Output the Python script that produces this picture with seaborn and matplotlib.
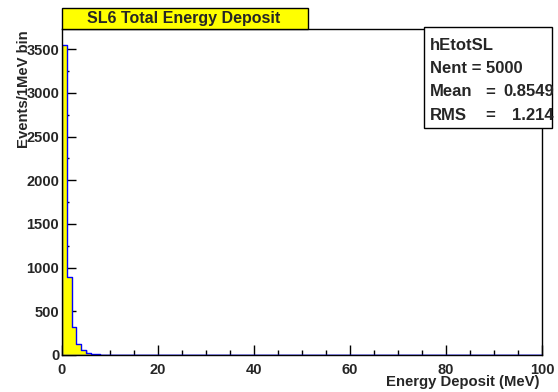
import numpy as np
import pandas as pd
import seaborn as sns
import matplotlib
matplotlib.use("Agg")
import matplotlib.pyplot as plt
from matplotlib.ticker import MultipleLocator
from matplotlib.patches import Rectangle

# Histogram contents: 1 MeV bins starting at 0 MeV
bin_low_edges = [0, 1, 2, 3, 4, 5, 6, 7, 8, 9, 10]
bin_counts = [3555, 890, 320, 125, 55, 25, 12, 8, 5, 3, 2]
x_range = (0, 100)
bin_width = 1.0

hist_name = "hEtotSL"
n_entries = 5000
mean_value = 0.8549
rms_value = 1.214
title_text = "SL6 Total Energy Deposit"
x_label = "Energy Deposit (MeV)"
y_label = "Events/1MeV bin"

sns.set_theme(style="white")
plt.rcParams["font.family"] = ["Liberation Sans", "DejaVu Sans"]
plt.rcParams["font.weight"] = "bold"

df = pd.DataFrame({
    "energy": np.array(bin_low_edges) + bin_width / 2,
    "count": bin_counts,
})

fig = plt.figure(figsize=(5.58, 3.92), dpi=100)
ax = fig.add_axes([62 / 558, 37 / 392, 480 / 558, 326 / 392])

sns.histplot(data=df, x="energy", weights="count", binwidth=bin_width,
             binrange=x_range, element="step", fill=True,
             facecolor="#ffff00", alpha=1.0,
             edgecolor="#0000ff", linewidth=1.0, ax=ax)

ax.set_xlim(*x_range)
ax.set_ylim(0, 1.05 * max(bin_counts))

ax.xaxis.set_major_locator(MultipleLocator(20))
ax.xaxis.set_minor_locator(MultipleLocator(5))
ax.yaxis.set_major_locator(MultipleLocator(500))
ax.yaxis.set_minor_locator(MultipleLocator(250))

ax.tick_params(axis="x", which="major", direction="in", length=7, width=1,
               color="black", bottom=True, top=False, pad=5.5, labelsize=10.5)
ax.tick_params(axis="x", which="minor", direction="in", length=3.5, width=1,
               color="black", bottom=True, top=False)
ax.tick_params(axis="y", which="major", direction="in", length=10, width=1,
               color="black", left=True, right=False, pad=2, labelsize=10.5)
ax.tick_params(axis="y", which="minor", direction="in", length=5, width=1,
               color="black", left=True, right=False)
for lab in ax.get_xticklabels() + ax.get_yticklabels():
    lab.set_fontweight("bold")

for sp in ax.spines.values():
    sp.set_visible(True)
    sp.set_color("black")
    sp.set_linewidth(1)

ax.set_xlabel("")
ax.set_ylabel("")
fig.text(539 / 558, 1 - 382 / 392, x_label, ha="right", va="center",
         fontsize=10.7, fontweight="bold")
fig.text(24 / 558, 1 - 30 / 392, y_label, ha="center", va="top",
         rotation=90, fontsize=10.7, fontweight="bold")

# Title box
fig.patches.append(Rectangle((62 / 558, 1 - 29 / 392), 246 / 558, 21 / 392,
                             transform=fig.transFigure, facecolor="#ffff00",
                             edgecolor="black", linewidth=1, zorder=5))
fig.text(184 / 558, 1 - 18.5 / 392, title_text, ha="center", va="center",
         fontsize=11.5, fontweight="bold", zorder=6)

# Statistics box
fig.patches.append(Rectangle((424 / 558, 1 - 128 / 392), 128 / 558, 101 / 392,
                             transform=fig.transFigure, facecolor="white",
                             edgecolor="black", linewidth=1, zorder=5))
stat_fs = 12
fig.text(430 / 558, 1 - 45 / 392, hist_name, ha="left", va="center",
         fontsize=stat_fs, fontweight="bold", zorder=6)
fig.text(430 / 558, 1 - 68.5 / 392, f"Nent = {n_entries}", ha="left",
         va="center", fontsize=stat_fs, fontweight="bold", zorder=6)
for row, (name, val) in enumerate([("Mean", f"{mean_value:.4f}"),
                                   ("RMS", f"{rms_value:.3f}")]):
    yy = 1 - (92 + 23.3 * row) / 392
    fig.text(430 / 558, yy, name, ha="left", va="center",
             fontsize=stat_fs, fontweight="bold", zorder=6)
    fig.text(490 / 558, yy, "=", ha="center", va="center",
             fontsize=stat_fs, fontweight="bold", zorder=6)
    fig.text(554 / 558, yy, val, ha="right", va="center",
             fontsize=stat_fs, fontweight="bold", zorder=6)

fig.savefig("out.png", dpi=100)
